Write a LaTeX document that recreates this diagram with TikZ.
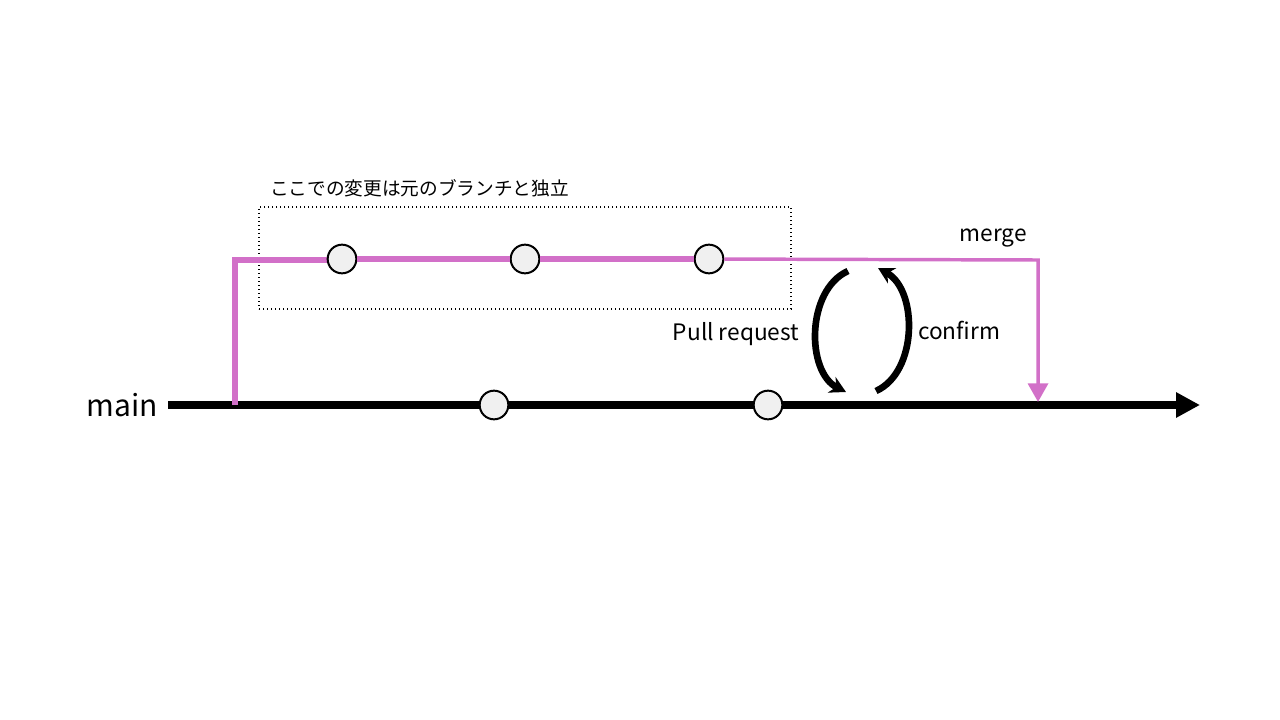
\documentclass[tikz,border=0pt]{standalone}
\usepackage{fontspec}
\setmainfont{Noto Sans CJK JP}
\usetikzlibrary{arrows.meta}
\definecolor{pinkb}{RGB}{210,112,200}
\definecolor{cfill}{RGB}{240,240,240}
\begin{document}
\begin{tikzpicture}[x=0.75pt,y=-0.75pt,
  commit/.style={circle,draw=black,line width=1.5pt,fill=cfill,minimum size=21.5pt,inner sep=0pt},
  lbl/.style={inner sep=0pt,font=\fontsize{17}{20}\selectfont},
  cyc/.style={line width=5pt,-{Stealth[length=12pt,width=13pt]}}]
\useasboundingbox (0,0) rectangle (1280,720);
% main line
\coordinate (ms) at (168,405);
\coordinate (me) at (1200,405);
\draw[line width=5.5pt,-{Triangle[length=18pt,width=18pt]}] (ms) -- (me);
\node[commit] (m1) at (494,405) {};
\node[commit] (m2) at (768,405) {};
\node[lbl,font=\fontsize{22.5}{26}\selectfont] (main) at (122,405) {main};
% branch
\coordinate (b0) at (235,405);
\coordinate (b1) at (235,260);
\coordinate (bm) at (1038,260);
\coordinate (bt) at (1038,402);
\node[draw,dotted,line width=1pt,minimum width=399pt,minimum height=76.5pt,inner sep=0pt] (box) at (525,258) {};
\node[lbl,font=\fontsize{14}{16}\selectfont,anchor=west] (note) at (270,188) {ここでの変更は元のブランチと独立};
\draw[pinkb,line width=4.2pt] (b0) -- (b1) -- (342,260);
\node[commit] (c1) at (342,259) {};
\node[commit] (c2) at (525,259) {};
\node[commit] (c3) at (709,259) {};
\draw[pinkb,line width=4.2pt] (c1) -- (c2);
\draw[pinkb,line width=4.2pt] (c2) -- (c3);
\draw[pinkb,line width=2.6pt,-{Triangle[length=14pt,width=15pt]}] (c3) -- (bm) -- (bt);
\node[lbl] (merge) at (993,238) {merge};
\node[lbl] (pr) at (736,334) {Pull request};
\node[lbl] (conf) at (959,330) {confirm};
% cycle arrows
\coordinate (l1) at (848,271);
\coordinate (l2) at (846,392);
\coordinate (r1) at (876,391);
\coordinate (r2) at (878,268);
\draw[cyc] (l1) .. controls (806,290) and (806,372) .. (l2);
\draw[cyc] (r1) .. controls (918,372) and (918,290) .. (r2);
\end{tikzpicture}
\end{document}
